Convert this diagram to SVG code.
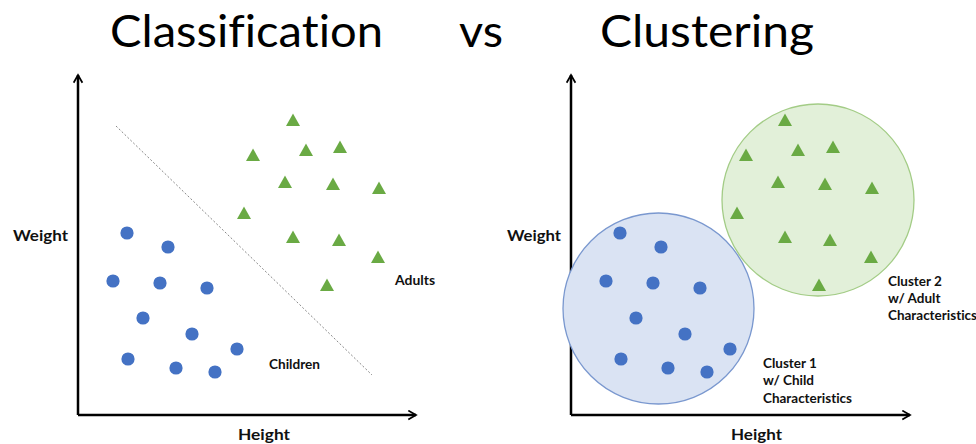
<svg xmlns="http://www.w3.org/2000/svg" width="976" height="444" viewBox="0 0 976 444">
<style>
text{font-variant-ligatures:none}
.title{font-family:Lato,"Open Sans","Liberation Sans",sans-serif;font-size:44px;fill:#000}
.lbl{font-family:Lato,"Open Sans","Liberation Sans",sans-serif;font-weight:bold;fill:#111}
.axis{stroke:#000;stroke-width:2.5;fill:none}
.dot{fill:#4472C4}
.tri{fill:#6AAA44}
</style>
<defs>
<marker id="ah" viewBox="0 0 10 10" refX="8" refY="5" markerWidth="4.4" markerHeight="4.4" orient="auto" markerUnits="strokeWidth">
<path d="M1,1 L8,5 L1,9" fill="none" stroke="#000" stroke-width="1.6"/>
</marker>
<circle id="d" r="6.6" class="dot"/>
<path id="t" d="M0,-6.5 L7,6 L-7,6 Z" class="tri"/>
</defs>
<rect width="976" height="444" fill="#fff"/>
<g id="titles">
<text class="title" x="110" y="47" textLength="273" lengthAdjust="spacingAndGlyphs">Classification</text>
<text class="title" x="459" y="47" textLength="44" lengthAdjust="spacingAndGlyphs">vs</text>
<text class="title" x="600" y="47" textLength="214" lengthAdjust="spacingAndGlyphs">Clustering</text>
</g>
<g id="connectors">
<path class="axis" d="M78,415 V75" marker-end="url(#ah)"/>
<path class="axis" d="M78,415 H416" marker-end="url(#ah)"/>
<path class="axis" d="M571,415 V75" marker-end="url(#ah)"/>
<path class="axis" d="M571,415 H910" marker-end="url(#ah)"/>
<path d="M116,126 L372,375" stroke="#888" stroke-width="1" stroke-dasharray="2,2" fill="none"/>
</g>
<g id="left-labels">
<text class="lbl" x="13" y="241" font-size="16" textLength="55" lengthAdjust="spacingAndGlyphs">Weight</text>
<text class="lbl" x="238" y="440" font-size="16" textLength="52" lengthAdjust="spacingAndGlyphs">Height</text>
<text class="lbl" x="269" y="369" font-size="13" textLength="51" lengthAdjust="spacingAndGlyphs">Children</text>
<text class="lbl" x="395" y="285" font-size="13" textLength="40" lengthAdjust="spacingAndGlyphs">Adults</text>
</g>
<g id="left-children">
<use href="#d" x="127" y="233"/><use href="#d" x="168" y="247"/><use href="#d" x="113" y="281"/>
<use href="#d" x="160" y="283"/><use href="#d" x="207" y="288"/><use href="#d" x="143" y="318"/>
<use href="#d" x="192" y="334"/><use href="#d" x="237" y="349"/><use href="#d" x="128" y="359"/>
<use href="#d" x="176" y="368"/><use href="#d" x="215" y="372"/>
</g>
<g id="left-adults">
<use href="#t" x="293" y="120"/><use href="#t" x="253" y="155"/><use href="#t" x="306" y="150"/>
<use href="#t" x="340" y="147"/><use href="#t" x="285" y="182"/><use href="#t" x="333" y="184"/>
<use href="#t" x="379" y="188"/><use href="#t" x="244" y="213"/><use href="#t" x="293" y="237"/>
<use href="#t" x="339" y="240"/><use href="#t" x="378" y="257"/><use href="#t" x="327" y="285"/>
</g>
<g id="cluster1">
<circle cx="658.5" cy="308.5" r="95.5" fill="#DAE3F3" stroke="#7A98CF" stroke-width="1.3"/>
<use href="#d" x="620" y="233"/><use href="#d" x="661" y="247"/><use href="#d" x="606" y="281"/>
<use href="#d" x="653" y="283"/><use href="#d" x="700" y="288"/><use href="#d" x="636" y="318"/>
<use href="#d" x="685" y="334"/><use href="#d" x="730" y="349"/><use href="#d" x="621" y="359"/>
<use href="#d" x="668" y="368"/><use href="#d" x="707" y="372"/>
</g>
<g id="cluster2">
<circle cx="818" cy="200" r="96" fill="#E2F0D9" stroke="#A3CC86" stroke-width="1.3"/>
<use href="#t" x="785" y="120"/><use href="#t" x="746" y="155"/><use href="#t" x="798" y="150"/>
<use href="#t" x="833" y="147"/><use href="#t" x="778" y="182"/><use href="#t" x="825" y="184"/>
<use href="#t" x="872" y="188"/><use href="#t" x="737" y="213"/><use href="#t" x="785" y="237"/>
<use href="#t" x="830" y="240"/><use href="#t" x="871" y="257"/><use href="#t" x="819" y="285"/>
</g>
<g id="right-labels">
<text class="lbl" x="507" y="241" font-size="16" textLength="54" lengthAdjust="spacingAndGlyphs">Weight</text>
<text class="lbl" x="731" y="440" font-size="16" textLength="51" lengthAdjust="spacingAndGlyphs">Height</text>
<text class="lbl" font-size="13.5"><tspan x="763" y="368">Cluster 1</tspan><tspan x="763" y="385">w/ Child</tspan><tspan x="763" y="403" textLength="89" lengthAdjust="spacingAndGlyphs">Characteristics</tspan></text>
<text class="lbl" font-size="13.5"><tspan x="888" y="286">Cluster 2</tspan><tspan x="888" y="303">w/ Adult</tspan><tspan x="888" y="320" textLength="89" lengthAdjust="spacingAndGlyphs">Characteristics</tspan></text>
</g>
</svg>
